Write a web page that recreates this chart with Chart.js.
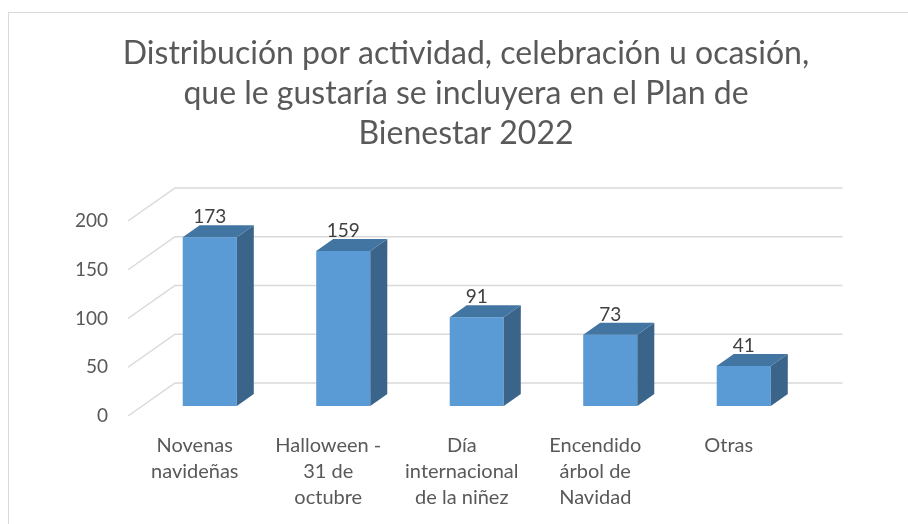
<!DOCTYPE html>
<html>
<head>
<meta charset="utf-8">
<script src="https://cdn.jsdelivr.net/npm/chart.js@4/dist/chart.umd.min.js"></script>
<style>
html,body{margin:0;padding:0;background:#fff}
#wrap{position:relative;width:908px;height:524px}
#frame{position:absolute;left:8px;top:12px;width:920px;height:540px;border:1px solid #d9d9d9;box-sizing:border-box}
</style>
</head>
<body>
<div id="wrap">
<div id="frame"></div>
<canvas id="barchart" width="908" height="524"></canvas>
</div>
<script>
var titlelines = ["Distribución por actividad, celebración u ocasión,", "que le gustaría se incluyera en el Plan de", "Bienestar 2022"]
var categories = [["Novenas","navideñas"], ["Halloween -","31 de","octubre"], ["Día","internacional","de la niñez"], ["Encendido","árbol de","Navidad"], "Otras"]
var values = [173, 159, 91, 73, 41]
var ymin = 0
var ymax = 200
var ystep = 50

// fake 3d: floor depth, bar position inside the floor, bar depth
var floorDX = 47, floorDY = -33
var barDX = 15, barDY = -10
var depthDX = 17, depthDY = -12

var threed = {
    id: 'threed',
    beforeDatasetsDraw: function (chart) {
        var ctx = chart.ctx
        var area = chart.chartArea
        var y = chart.scales.y
        ctx.save()
        ctx.strokeStyle = '#d9d9d9'
        ctx.lineWidth = 1.5
        for (var v = ymin; v <= ymax; v += ystep) {
            var py = y.getPixelForValue(v)
            ctx.beginPath()
            ctx.moveTo(area.left, py)
            ctx.lineTo(area.left + floorDX, py + floorDY)
            ctx.lineTo(area.right + floorDX, py + floorDY)
            ctx.stroke()
        }
        ctx.restore()
        ctx.save()
        ctx.translate(barDX, barDY)
    },
    afterDatasetsDraw: function (chart) {
        var ctx = chart.ctx
        var meta = chart.getDatasetMeta(0)
        for (var i = 0; i < meta.data.length; i++) {
            var b = meta.data[i]
            var l = b.x - b.width / 2, r = b.x + b.width / 2
            // side
            ctx.fillStyle = '#3a6489'
            ctx.beginPath()
            ctx.moveTo(r, b.y)
            ctx.lineTo(r + depthDX, b.y + depthDY)
            ctx.lineTo(r + depthDX, b.base + depthDY)
            ctx.lineTo(r, b.base)
            ctx.closePath()
            ctx.fill()
            // top
            ctx.fillStyle = '#4275a2'
            ctx.beginPath()
            ctx.moveTo(l, b.y)
            ctx.lineTo(l + depthDX, b.y + depthDY)
            ctx.lineTo(r + depthDX, b.y + depthDY)
            ctx.lineTo(r, b.y)
            ctx.closePath()
            ctx.fill()
            // value
            ctx.fillStyle = '#404040'
            ctx.font = '19px Lato'
            ctx.textAlign = 'center'
            ctx.textBaseline = 'alphabetic'
            ctx.fillText(values[i], b.x, b.y + depthDY - 2)
        }
        ctx.restore()
    }
}

var config = {
    type: 'bar',
    data: {
        labels: categories,
        datasets: [{
            data: values,
            backgroundColor: '#5b9bd5',
            borderWidth: 0,
            categoryPercentage: 1,
            barPercentage: 0.405
        }]
    },
    options: {
        responsive: false,
        animation: false,
        layout: {
            padding: {left: 24, right: 0, top: 0, bottom: 0}
        },
        plugins: {
            legend: {display: false},
            tooltip: {enabled: false},
            title: {
                display: true,
                text: titlelines,
                color: '#595959',
                font: {family: 'Lato', size: 32, weight: 'normal', lineHeight: 1.25},
                padding: {top: 34, bottom: 67}
            }
        },
        scales: {
            x: {
                grid: {display: false},
                border: {display: false},
                ticks: {
                    color: '#595959',
                    font: {family: 'Lato', size: 20, lineHeight: 1.3},
                    maxRotation: 0,
                    autoSkip: false,
                    padding: 9
                },
                afterFit: function (scale) { scale.height = 108 }
            },
            y: {
                min: ymin,
                max: ymax,
                grid: {display: false, drawTicks: false},
                border: {display: false},
                ticks: {
                    stepSize: ystep,
                    color: '#595959',
                    font: {family: 'Lato', size: 19},
                    padding: 20
                },
                afterFit: function (scale) { scale.width = 104 }
            },
            // empty right axis, only keeps room for the depth of the back wall
            yright: {
                position: 'right',
                display: true,
                grid: {display: false, drawTicks: false},
                border: {display: false},
                ticks: {display: false},
                afterFit: function (scale) { scale.width = 112.5 }
            }
        }
    },
    plugins: [threed]
}

var barchart = new Chart(document.getElementById("barchart").getContext("2d"), config)
</script>
</body>
</html>
